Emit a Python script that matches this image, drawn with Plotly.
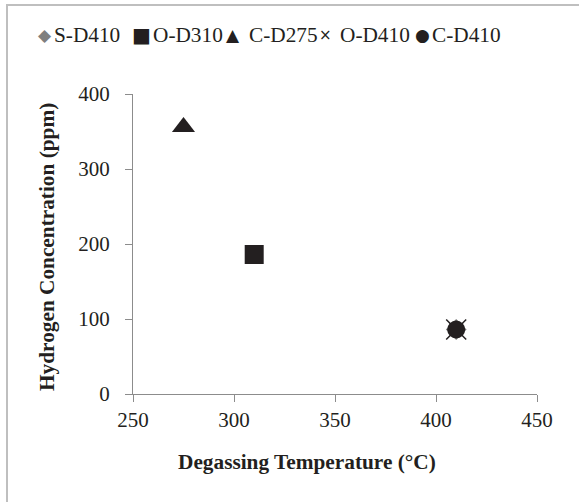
import plotly.graph_objects as go

# ---- data ----
series_names = ["S-D410", "O-D310", "C-D275", "O-D410", "C-D410"]
temps = [410, 310, 275, 410, 410]
hydrogen = [86, 186, 356, 86, 86]
symbols = ["diamond", "square", "triangle-up", "x-thin", "circle"]
colors = ["#7f7f7f", "#231f20", "#231f20", "#231f20", "#231f20"]
sizes = [16, 19, 20, 20, 18]
legend_glyphs = ["◆", "■", "▲", "×", "●"]

x_ticks = [250, 300, 350, 400, 450]
y_ticks = [0, 100, 200, 300, 400]

W, H = 579, 502
L, R, T, B = 133, 42, 94, 108
PW, PH = W - L - R, H - T - B

def px_x(x):
    return (x - L) / PW

def px_y(y):
    return (H - B - y) / PH

FONT = "Liberation Serif, Times New Roman, serif"
TXT = "#231f20"

fig = go.Figure()
for name, x, y, sym, col, sz in zip(series_names, temps, hydrogen, symbols, colors, sizes):
    if sym == "x-thin":
        marker = dict(symbol=sym, size=sz, color=col, line=dict(color=col, width=1.5))
    else:
        marker = dict(symbol=sym, size=sz, color=col, line=dict(width=0))
    fig.add_trace(go.Scatter(x=[x], y=[y], mode="markers", name=name, marker=marker,
                             showlegend=False, cliponaxis=False))

axis_common = dict(
    showgrid=False, zeroline=False, showline=True, linecolor="#8c8c8c", linewidth=1,
    ticks="outside", ticklen=7, tickcolor="#8c8c8c", tickwidth=1,
    tickfont=dict(family=FONT, size=21, color=TXT),
)
fig.update_xaxes(range=[250, 450], tickvals=x_ticks, ticktext=[str(v) for v in x_ticks],
                 ticklabelstandoff=0, **axis_common)
fig.update_yaxes(range=[0, 400], tickvals=y_ticks, ticktext=[str(v) for v in y_ticks],
                 ticklabelstandoff=11, **axis_common)

annotations = []
# legend (Excel-style, tight marker/text spacing)
glyph_px = [45, 141, 233, 325, 422]
text_px = [52, 151, 247, 338, 430]
glyph_sizes = [17, 20, 17, 15, 17]
for name, g, col, gx, tx, gs in zip(series_names, legend_glyphs, colors, glyph_px, text_px, glyph_sizes):
    annotations.append(dict(xref="paper", yref="paper", x=px_x(gx), y=px_y(35), text=g,
                            showarrow=False, xanchor="center", yanchor="middle",
                            font=dict(family="DejaVu Sans", size=gs, color=col)))
    annotations.append(dict(xref="paper", yref="paper", x=px_x(tx), y=px_y(35), text=name,
                            showarrow=False, xanchor="left", yanchor="middle",
                            font=dict(family=FONT, size=21.3, color=TXT)))
# axis titles
annotations.append(dict(xref="paper", yref="paper", x=px_x(306.5), y=px_y(462),
                        text="<b>Degassing Temperature (°C)</b>", showarrow=False,
                        xanchor="center", yanchor="middle",
                        font=dict(family=FONT, size=21.3, color=TXT)))
annotations.append(dict(xref="paper", yref="paper", x=px_x(47), y=px_y(247),
                        text="<b>Hydrogen Concentration (ppm)</b>", showarrow=False,
                        textangle=-90, xanchor="center", yanchor="middle",
                        font=dict(family=FONT, size=21.3, color=TXT)))

fig.update_layout(
    width=W, height=H, autosize=False,
    margin=dict(l=L, r=R, t=T, b=B, pad=0),
    paper_bgcolor="white", plot_bgcolor="white",
    showlegend=False,
    annotations=annotations,
    shapes=[dict(type="rect", xref="paper", yref="paper",
                 x0=px_x(7), y0=px_y(560), x1=px_x(640), y1=px_y(5),
                 line=dict(color="#bfbfbf", width=2), fillcolor="rgba(0,0,0,0)", layer="below")],
)

fig.write_html("out.html", config={"displayModeBar": False},
               post_script="document.body.style.margin='0px';document.body.style.overflow='hidden';")
